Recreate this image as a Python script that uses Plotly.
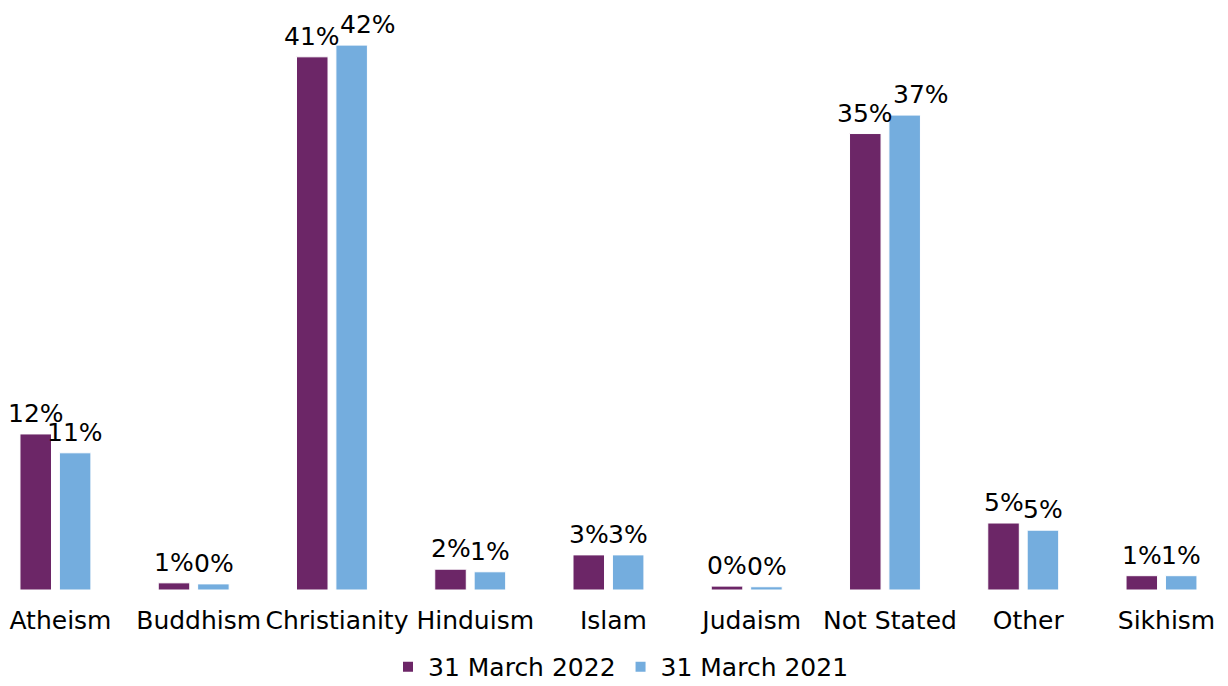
import plotly.graph_objects as go

categories = ["Atheism", "Buddhism", "Christianity", "Hinduism", "Islam",
              "Judaism", "Not Stated", "Other", "Sikhism"]
values_2022 = [12.0, 0.55, 41.0, 1.6, 2.7, 0.3, 35.1, 5.15, 1.1]
values_2021 = [10.55, 0.47, 41.9, 1.4, 2.7, 0.25, 36.52, 4.6, 1.1]
series_names = ["31 March 2022", "31 March 2021"]
colors = ["#6C2667", "#74ADDE"]

FONT = "DejaVu Sans"
LABEL_SIZE = 25
WIDTH, HEIGHT = 1228, 686
MARGIN = dict(l=0, r=0, t=10, b=96)
X_RANGE = [-0.401, 8.481]
Y_RANGE = [0, 44.6]
BARGAP, BARGROUPGAP = 0.43, 0.2

fig = go.Figure()
for name, vals, col in zip(series_names, [values_2022, values_2021], colors):
    fig.add_trace(go.Bar(
        x=categories, y=vals, name=name,
        marker=dict(color=col, line=dict(color="white", width=1)),
        cliponaxis=False,
    ))

# data labels as annotations (placed at each bar through the axes, nudged sideways
# when two neighbouring labels would collide, like the reference's label layout)
plot_w = WIDTH - MARGIN["l"] - MARGIN["r"]
plot_h = HEIGHT - MARGIN["t"] - MARGIN["b"]
px_per_cat = plot_w / (X_RANGE[1] - X_RANGE[0])
px_per_unit = plot_h / (Y_RANGE[1] - Y_RANGE[0])
slot = px_per_cat * (1 - BARGAP) / 2
half_sep = slot / 2


def text_w(s):
    return sum(0.95 if c == "%" else 0.636 for c in s) * LABEL_SIZE


annotations = []
for i, cat in enumerate(categories):
    v1, v2 = values_2022[i], values_2021[i]
    t1, t2 = f"{v1:.0f}%", f"{v2:.0f}%"
    extra = 0.0
    overlap = (text_w(t1) + text_w(t2)) / 2 - 2 * half_sep
    if overlap > 0 and abs(v1 - v2) * px_per_unit < 18.7:
        extra = overlap
    for v, t, dx in [(v1, t1, -half_sep), (v2, t2, half_sep + extra)]:
        annotations.append(dict(
            x=cat, y=v, xref="x", yref="y", text=t, showarrow=False,
            xanchor="center", yanchor="bottom", xshift=dx, yshift=4,
            font=dict(family=FONT, size=LABEL_SIZE, color="black"),
        ))

fig.update_layout(
    width=WIDTH, height=HEIGHT,
    margin=dict(**MARGIN, autoexpand=False),
    paper_bgcolor="white", plot_bgcolor="white",
    barmode="group", bargap=BARGAP, bargroupgap=BARGROUPGAP,
    font=dict(family=FONT, size=25, color="black"),
    xaxis=dict(range=X_RANGE, showgrid=False, showline=False,
               ticks="", tickfont=dict(size=25), automargin=False,
               ticklabelstandoff=13, ticklabelshift=5),
    yaxis=dict(range=Y_RANGE, visible=False),
    legend=dict(orientation="h", x=0.5057, xanchor="center", y=-0.093, yanchor="top",
                font=dict(size=25), itemsizing="constant"),
    annotations=annotations,
)

fig.write_html("out.html", config={"displayModeBar": False},
               post_script="document.body.style.margin='0';document.body.style.overflow='hidden';")
